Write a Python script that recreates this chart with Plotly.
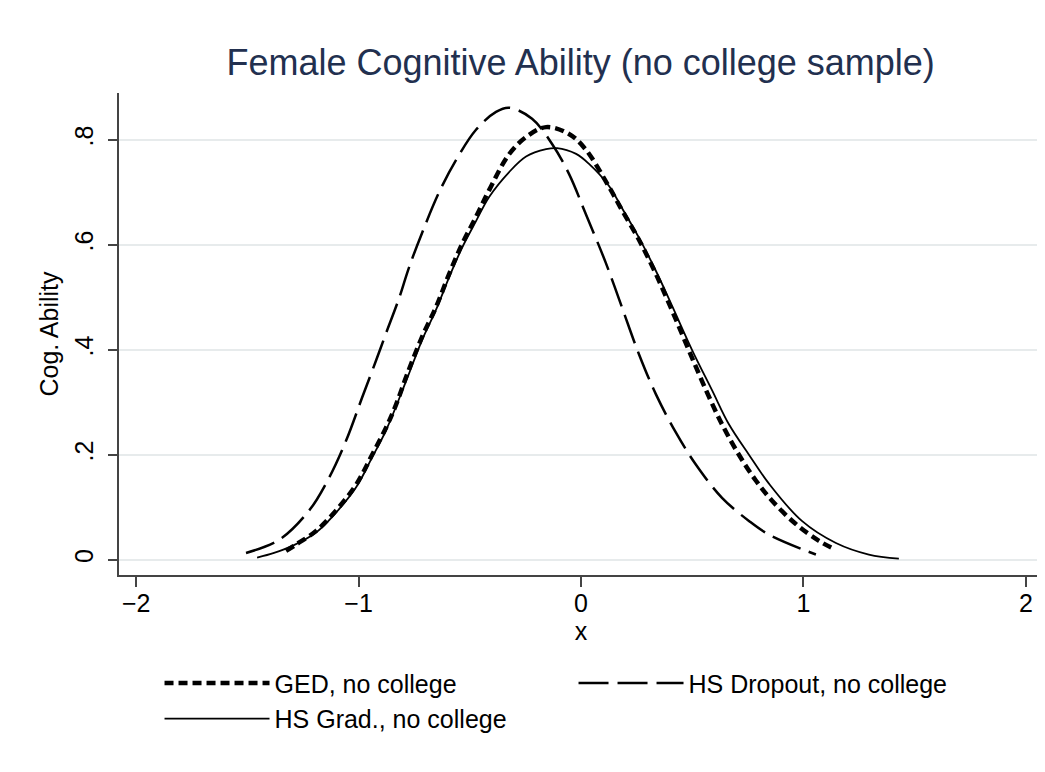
import plotly.graph_objects as go

# ---- data ----
ged_x = [-1.326, -1.281, -1.191, -1.101, -1.011, -0.939, -0.876, -0.831, -0.782, -0.715,
         -0.652, -0.593, -0.535, -0.472, -0.413, -0.324, -0.247, -0.157, -0.054, 0.022,
         0.126, 0.184, 0.261, 0.337, 0.409, 0.485, 0.562, 0.634, 0.710, 0.786,
         0.858, 0.966, 1.070, 1.146]
ged_y = [0.017, 0.029, 0.055, 0.094, 0.143, 0.200, 0.252, 0.296, 0.353, 0.424,
         0.481, 0.544, 0.601, 0.653, 0.704, 0.772, 0.805, 0.824, 0.811, 0.781,
         0.710, 0.666, 0.609, 0.544, 0.475, 0.399, 0.323, 0.258, 0.200, 0.151,
         0.113, 0.068, 0.036, 0.019]

drop_x = [-1.506, -1.357, -1.222, -1.133, -1.056, -0.984, -0.921, -0.876, -0.818, -0.773,
          -0.715, -0.638, -0.562, -0.472, -0.382, -0.324, -0.220, -0.130, -0.054, 0.022,
          0.112, 0.184, 0.261, 0.337, 0.427, 0.517, 0.634, 0.755, 0.845, 1.056]
drop_y = [0.013, 0.038, 0.094, 0.156, 0.227, 0.309, 0.380, 0.432, 0.498, 0.557,
          0.622, 0.700, 0.761, 0.819, 0.853, 0.861, 0.840, 0.792, 0.735, 0.658,
          0.565, 0.481, 0.391, 0.315, 0.242, 0.181, 0.118, 0.074, 0.048, 0.010]

grad_x = [-1.456, -1.380, -1.300, -1.191, -1.101, -1.011, -0.939, -0.876, -0.782, -0.715,
          -0.652, -0.593, -0.535, -0.472, -0.413, -0.324, -0.247, -0.157, -0.108, -0.022,
          0.036, 0.126, 0.184, 0.261, 0.337, 0.409, 0.500, 0.589, 0.665, 0.755,
          0.845, 0.993, 1.146, 1.294, 1.429]
grad_y = [0.004, 0.013, 0.026, 0.052, 0.090, 0.138, 0.195, 0.247, 0.345, 0.418,
          0.476, 0.538, 0.594, 0.645, 0.691, 0.738, 0.768, 0.782, 0.784, 0.773,
          0.754, 0.712, 0.670, 0.613, 0.550, 0.484, 0.399, 0.323, 0.258, 0.200,
          0.145, 0.074, 0.032, 0.010, 0.002]

series_names = ["GED, no college", "HS Dropout, no college", "HS Grad., no college"]
x_ticks = [-2, -1, 0, 1, 2]
y_ticks = [0, 0.2, 0.4, 0.6, 0.8]
y_ticktext = ["0", ".2", ".4", ".6", ".8"]

FONT = "Liberation Sans, Arial, sans-serif"
FS = 25

fig = go.Figure()
fig.add_trace(go.Scatter(x=ged_x, y=ged_y, mode="lines", name=series_names[0],
                         line=dict(color="black", width=4.5, dash="9px,5px", shape="spline")))
fig.add_trace(go.Scatter(x=drop_x, y=drop_y, mode="lines", name=series_names[1],
                         line=dict(color="black", width=2.5, dash="30px,9px", shape="spline")))
fig.add_trace(go.Scatter(x=grad_x, y=grad_y, mode="lines", name=series_names[2],
                         line=dict(color="black", width=1.8, shape="spline")))

fig.update_layout(
    width=1045, height=772,
    paper_bgcolor="white", plot_bgcolor="white",
    margin=dict(l=111, r=10, t=85, b=205),
    font=dict(family=FONT, size=FS, color="black"),
    title=dict(text="Female Cognitive Ability (no college sample)",
               font=dict(family=FONT, size=36, color="#22304f"),
               x=0.548, xanchor="center", y=0.93, yanchor="middle"),
    xaxis=dict(range=[-2.077, 2.077], tickvals=x_ticks, ticks="outside", ticklen=10,
               tickcolor="#444", tickwidth=1.5, showline=True, linecolor="#444", linewidth=1.5,
               showgrid=False, zeroline=False, ticklabelstandoff=-5,
               title=dict(text="x", standoff=0, font=dict(size=FS))),
    yaxis=dict(range=[-0.029, 0.889], tickvals=y_ticks, ticktext=y_ticktext, tickangle=-90,
               ticks="outside", ticklen=9, tickcolor="#444", tickwidth=1.5,
               showline=True, linecolor="#444", linewidth=1.5, ticklabelstandoff=5,
               showgrid=True, gridcolor="#e7ebec", gridwidth=1.5, zeroline=False,
               title=dict(text="Cog. Ability", standoff=5, font=dict(size=FS))),
    legend=dict(orientation="h", xref="container", yref="container",
                x=0.145, xanchor="left", y=0.155, yanchor="top",
                entrywidth=294, entrywidthmode="pixels", itemwidth=105,
                traceorder="normal", font=dict(size=FS),
                bgcolor="rgba(0,0,0,0)"),
    showlegend=True,
)

fig.write_html("out.html")
